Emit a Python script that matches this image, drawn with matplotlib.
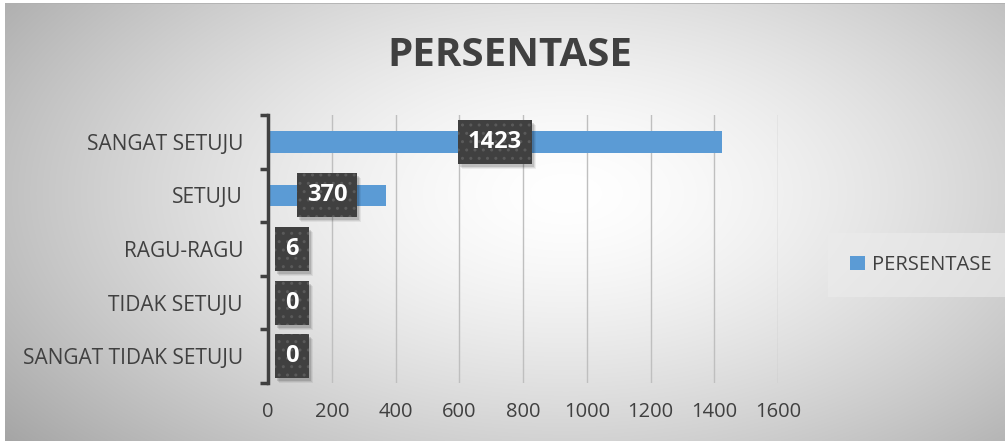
import matplotlib
matplotlib.use('Agg')
import matplotlib.pyplot as plt
from matplotlib.patches import Rectangle
import numpy as np

# data
kategori = ['SANGAT SETUJU', 'SETUJU', 'RAGU-RAGU', 'TIDAK SETUJU', 'SANGAT TIDAK SETUJU']
nilai = [1423, 370, 6, 0, 0]
x_ticks = [0, 200, 400, 600, 800, 1000, 1200, 1400, 1600]

plt.rcParams['font.family'] = ['Open Sans', 'DejaVu Sans']
teks = '#404040'
biru = '#5B9BD5'

fig = plt.figure(figsize=(10.05, 4.41), dpi=100)
fig.patch.set_facecolor('white')

# latar belakang gradien radial
bg = fig.add_axes([5/1005, 0, 1000/1005, 438/441], zorder=-5)
W, H = 1000, 438
xx, yy = np.meshgrid(np.arange(W), np.arange(H))
r = np.sqrt(((xx - 560) / 600.0)**2 + ((yy - 190) / 330.0)**2)
g = 1 - 0.27 * np.clip(r, 0, 1.2)**1.5
bg.imshow(np.dstack([g, g, g]), aspect='auto', extent=[0, 1, 0, 1], origin='upper')
bg.plot([0, 1], [0.999, 0.999], color='#b0b0b0', lw=1.2)
bg.set_xlim(0, 1)
bg.set_ylim(0, 1)
bg.axis('off')

ax = fig.add_axes([268/1005, 58/441, 510/1005, 268/441])
ax.patch.set_alpha(0)

y_pos = np.arange(len(kategori))
ax.barh(y_pos, nilai, height=0.4, color=biru, zorder=3)
ax.set_ylim(len(kategori) - 0.5, -0.5)
ax.set_xlim(0, 1600)

ax.set_xticks(x_ticks)
ax.set_xticklabels([str(t) for t in x_ticks], fontsize=14.5, color=teks)
ax.tick_params(axis='x', length=0, pad=14)
ax.grid(axis='x', color='#bfbfbf', lw=1, zorder=1)

ax.set_yticks(y_pos)
ax.set_yticklabels(kategori, fontsize=15, color=teks)
ax.set_yticks(np.arange(-0.5, len(kategori)), minor=True)
ax.tick_params(axis='y', which='major', length=0, pad=18)
ax.tick_params(axis='y', which='minor', length=6, width=2.5, color=teks, direction='out')

for s in ['top', 'right', 'bottom']:
    ax.spines[s].set_visible(False)
ax.spines['left'].set_color(teks)
ax.spines['left'].set_linewidth(2.5)
ax.spines['left'].set_zorder(5)

# label data
label = []
for i, v in enumerate(nilai):
    xl = max(v / 2.0, 75)
    t = ax.text(xl, i, str(v), ha='center', va='center', fontsize=17, fontweight='bold',
                color='white', zorder=7,
                bbox=dict(boxstyle='square,pad=0.42', fc='#404040', ec='#5a5a5a', lw=0, hatch='..'))
    label.append(t)

fig.text(510/1005, 1 - 56/441, 'PERSENTASE', ha='center', va='center',
         fontsize=29, fontweight='bold', color=teks)

leg = ax.legend(['PERSENTASE'], loc='center left', bbox_to_anchor=(1.09, 0.44),
                frameon=True, fontsize=14.5, handlelength=0.75, handleheight=0.75,
                handletextpad=0.35, borderpad=0.8)
leg.get_frame().set_facecolor('#ececec')
leg.get_frame().set_alpha(0.6)
leg.get_frame().set_edgecolor('none')
leg.get_frame().set_boxstyle('square')
for tx in leg.get_texts():
    tx.set_color(teks)

# bayangan kotak label (di bawah kotak, di atas batang)
fig.canvas.draw()
rend = fig.canvas.get_renderer()
for t in label:
    bb = t.get_bbox_patch().get_window_extent(rend)
    for k, a in [(5, 0.06), (4, 0.08), (3, 0.12)]:
        ax.add_patch(Rectangle((bb.x0 + k - 1, bb.y0 - k), bb.width, bb.height,
                               transform=None, fc='black', ec='none', alpha=a,
                               zorder=6, clip_on=False))

plt.savefig('out.png', dpi=100)
